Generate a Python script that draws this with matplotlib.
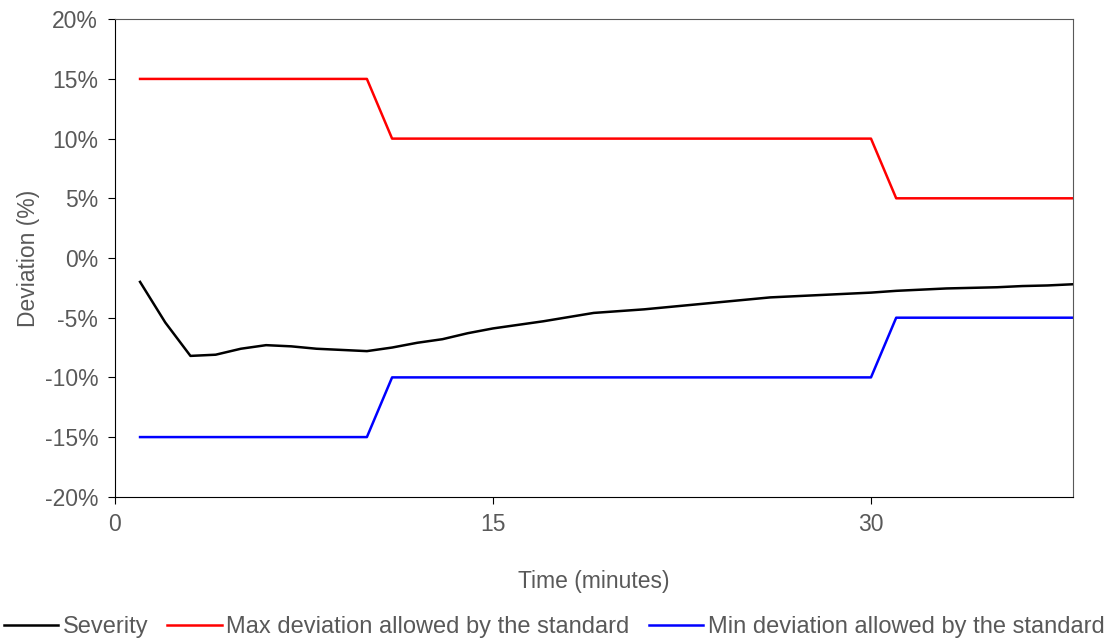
import matplotlib
matplotlib.use('Agg')
import matplotlib.pyplot as plt
from matplotlib.ticker import PercentFormatter

plt.rcParams['font.family'] = ['Liberation Sans', 'DejaVu Sans']
plt.rcParams['axes.unicode_minus'] = False

# --- data (minutes, deviation in %) ---
time_min = list(range(1, 39))
severity = [-2.0, -5.4, -8.2, -8.1, -7.6, -7.3, -7.4, -7.6, -7.7, -7.8,
            -7.5, -7.1, -6.8, -6.3, -5.9, -5.6, -5.3, -4.95, -4.6, -4.45,
            -4.3, -4.1, -3.9, -3.7, -3.5, -3.3, -3.2, -3.1, -3.0, -2.9,
            -2.75, -2.65, -2.55, -2.5, -2.45, -2.35, -2.3, -2.2]
max_dev = [15] * 10 + [10] * 20 + [5] * 8
min_dev = [-15] * 10 + [-10] * 20 + [-5] * 8

GREY = '#595959'
FS = 16.5

fig = plt.figure(figsize=(11.15, 6.41), dpi=100)
ax = fig.add_axes([0.103, 0.225, 0.859, 0.745])

ax.plot(time_min, severity, color='black', lw=1.8, label='Severity')
ax.plot(time_min, max_dev, color='#ff0000', lw=1.8,
        label='Max deviation allowed by the standard')
ax.plot(time_min, min_dev, color='#0000ff', lw=1.8,
        label='Min deviation allowed by the standard')

ax.set_xlim(0, 38)
ax.set_ylim(-20, 20)
ax.set_xticks([0, 15, 30])
ax.set_yticks(range(-20, 21, 5))
ax.yaxis.set_major_formatter(PercentFormatter(decimals=0))

for side in ['top', 'right']:
    ax.spines[side].set_color(GREY)
for side in ['left', 'bottom']:
    ax.spines[side].set_color('black')
ax.tick_params(direction='out', length=5, colors='black', labelcolor=GREY,
               labelsize=FS)
ax.tick_params(axis='y', pad=7)
ax.tick_params(axis='x', pad=7)

ax.set_xlabel('Time (minutes)', fontsize=FS, color=GREY, labelpad=24)
ax.set_ylabel('Deviation (%)', fontsize=FS, color=GREY, labelpad=3)

leg = fig.legend(loc='center', bbox_to_anchor=(0.497, 0.022), ncol=3,
                 frameon=False, fontsize=17, handlelength=2.3,
                 handletextpad=0.2, columnspacing=0.8, borderaxespad=0)
for t in leg.get_texts():
    t.set_color(GREY)

fig.savefig('out.png', dpi=100)
